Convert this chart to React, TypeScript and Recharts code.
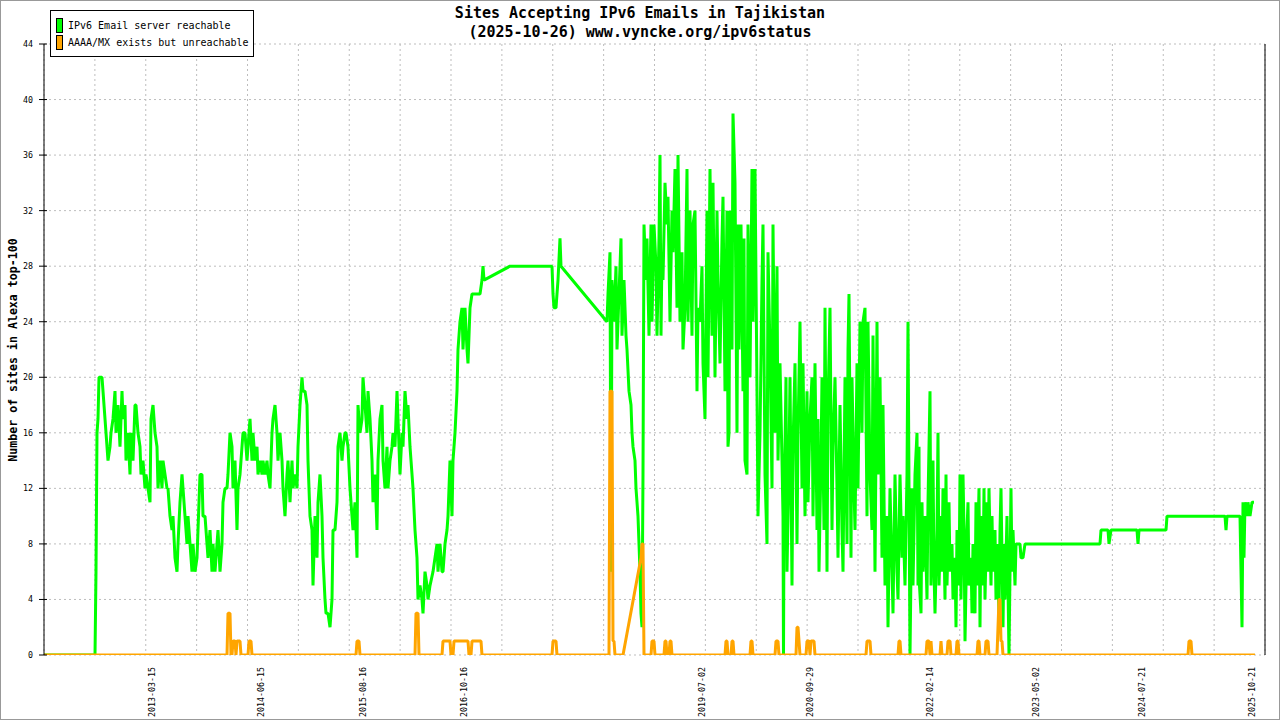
import { LineChart, Line, XAxis, YAxis, CartesianGrid } from "recharts";

// sample index -> sites reachable over IPv6 (green)
const reachable: [number, number][] = [
  [0, 0], [51, 0], [52, 6], [53, 16], [54, 17], [55, 20], [58, 20], [59, 19], [61, 17], [63, 15], [64, 14], [66, 15],
  [67, 16], [69, 17], [71, 19], [72, 16], [74, 18], [76, 15], [78, 19], [79, 17], [81, 18], [82, 14], [84, 16], [86, 13],
  [87, 16], [89, 14], [91, 18], [92, 18], [94, 16], [96, 15], [97, 13], [99, 14], [101, 12], [102, 13], [104, 12], [106, 11],
  [107, 17], [109, 18], [111, 16], [113, 15], [114, 12], [116, 14], [118, 12], [119, 14], [121, 13], [123, 12], [124, 12],
  [126, 10], [128, 9], [129, 10], [131, 7], [133, 6], [134, 8], [136, 11], [138, 13], [139, 12], [141, 10], [143, 8],
  [144, 10], [146, 8], [148, 6], [149, 8], [151, 6], [153, 7], [154, 9], [156, 13], [158, 13], [159, 10], [161, 10],
  [163, 8], [164, 7], [166, 9], [168, 6], [169, 8], [171, 6], [173, 8], [174, 9], [176, 6], [178, 8], [179, 11], [181, 12],
  [183, 12], [184, 13], [186, 16], [188, 15], [189, 12], [191, 14], [193, 9], [194, 12], [196, 13], [198, 15], [199, 16],
  [201, 16], [203, 14], [204, 15], [206, 17], [208, 14], [209, 16], [211, 14], [213, 15], [214, 13], [216, 14], [218, 13],
  [219, 14], [221, 13], [223, 14], [224, 13], [226, 12], [228, 16], [229, 17], [231, 18], [233, 16], [234, 14], [236, 16],
  [238, 14], [239, 12], [241, 10], [243, 13], [244, 14], [246, 11], [248, 14], [249, 12], [251, 13], [253, 12], [254, 15],
  [256, 18], [258, 20], [259, 19], [261, 19], [263, 18], [264, 14], [266, 10], [268, 9], [269, 5], [271, 10], [273, 7],
  [274, 11], [276, 13], [278, 10], [279, 7], [281, 4], [282, 3], [284, 3], [286, 2], [288, 4], [289, 9], [291, 9], [293, 11],
  [294, 15], [296, 16], [298, 14], [299, 15], [301, 16], [302, 16], [304, 15], [306, 12], [308, 10], [309, 9], [311, 11],
  [313, 7], [314, 18], [316, 16], [318, 17], [319, 20], [321, 18], [323, 16], [324, 19], [326, 17], [328, 14], [329, 11],
  [331, 13], [333, 9], [334, 14],
  [336, 17], [338, 18], [339, 14], [341, 12], [343, 15], [344, 12], [346, 14], [348, 15], [349, 16], [351, 15], [353, 19],
  [354, 17], [356, 13], [358, 16], [359, 15], [361, 19], [363, 17], [364, 18], [366, 15], [368, 13], [369, 12], [371, 9],
  [373, 7], [374, 4], [376, 5], [378, 4], [379, 3], [381, 6], [383, 5], [384, 4], [386, 5], [389, 6], [391, 7], [393, 8],
  [394, 6], [396, 8], [398, 6], [399, 6], [401, 8], [403, 9], [404, 10], [406, 14], [408, 10], [409, 14], [411, 16],
  [413, 19], [414, 22], [416, 24], [418, 25], [419, 22], [421, 25], [423, 22], [424, 21], [426, 25], [428, 26], [436, 26],
  [438, 27], [439, 28], [440, 27], [466, 28], [508, 28], [509, 26], [510, 25], [512, 25], [513, 26], [514, 27], [516, 30],
  [517, 28], [563, 24], [564, 26], [566, 29], [567, 6], [568, 27], [570, 24], [572, 28], [573, 22], [575, 26], [577, 30],
  [578, 23], [580, 27], [582, 23], [583, 22], [585, 19], [587, 18], [588, 16], [589, 15], [591, 14], [592, 12], [593, 11],
  [594, 10], [595, 8], [596, 6], [597, 3], [598, 2], [599, 13], [600, 31], [602, 27], [603, 30], [605, 23], [607, 31],
  [608, 24], [610, 31], [612, 28], [613, 23], [615, 30],
  [616, 36], [617, 23], [618, 29], [619, 27], [621, 34], [623, 31], [624, 33], [626, 24], [628, 32], [629, 29], [631, 35],
  [633, 25], [634, 36], [636, 24], [638, 29], [639, 22], [641, 25], [643, 35], [644, 24], [646, 32], [648, 23], [649, 31],
  [651, 32], [653, 19], [654, 25], [656, 24], [658, 28], [659, 21], [661, 17], [663, 32], [664, 20], [666, 35], [668, 23],
  [669, 34], [671, 20], [673, 32], [674, 27], [676, 21], [678, 30], [679, 33], [681, 19], [683, 32], [684, 15], [685, 16],
  [686, 32], [688, 22], [689, 39], [691, 34], [693, 16], [694, 31], [695, 22], [697, 31], [699, 19], [700, 30], [701, 14],
  [703, 13], [704, 31], [706, 20], [708, 35], [709, 24], [711, 35], [713, 19], [714, 10], [716, 16], [718, 27], [719, 31],
  [721, 13], [723, 8], [724, 29], [726, 22], [728, 12], [729, 31], [731, 16], [733, 28], [734, 14], [736, 21], [738, 14],
  [739, 10], [739.5, 0], [740, 10], [742, 20], [743, 6], [745, 14], [746, 20], [748, 5], [749, 15], [751, 21], [753, 8],
  [754, 16], [756, 24], [758, 12], [759, 21], [761, 10], [763, 19], [764, 11], [766, 17], [768, 20], [769, 10], [771, 21],
  [773, 9], [774, 17], [775, 6], [777, 14], [778, 20], [780, 9], [781, 25], [783, 6], [784, 18], [786, 25], [788, 9],
  [789, 15], [791, 20], [793, 12], [794, 7], [796, 18], [798, 9], [799, 6], [801, 20], [803, 8], [804, 22], [805, 26],
  [807, 7], [808, 20], [810, 12], [811, 9], [813, 21], [814, 12], [816, 24], [818, 16], [819, 24], [821, 25], [823, 10],
  [824, 24], [826, 13], [828, 9], [829, 23], [831, 6], [833, 24], [834, 13], [836, 20], [838, 7], [839, 18], [841, 5],
  [843, 10], [844, 2], [846, 12], [848, 6], [849, 3], [851, 13], [853, 6], [854, 4], [856, 13], [858, 7], [859, 10],
  [861, 5], [863, 13], [864, 24], [866, 0], [868, 12], [869, 5], [871, 13], [873, 16], [874, 5],
  [875, 15], [875.5, 5], [877, 3], [878, 11], [879, 6], [881, 10], [883, 4], [884, 11], [886, 19], [887, 5], [889, 14],
  [890, 6], [891, 3], [893, 9], [894, 16], [895, 5], [897, 10], [898, 6], [899, 12], [901, 4], [902, 13], [903, 5],
  [905, 11], [906, 6], [908, 8], [909, 4], [911, 7], [912, 2], [913, 9], [915, 5], [916, 13], [917, 4], [919, 13],
  [920, 9], [921, 1], [923, 9], [924, 11], [925, 5], [927, 7], [928, 3], [929, 8], [931, 3], [932, 11], [933, 5],
  [935, 12], [936, 2], [937, 10], [939, 5], [940, 12], [941, 4], [943, 11], [944, 6], [945, 12], [947, 5], [948, 10],
  [949, 6], [951, 9], [952, 4], [953, 8], [955, 3], [956, 9], [957, 12], [959, 2], [960, 8], [961, 4], [963, 10],
  [964, 5], [965, 0], [967, 12], [968, 6], [969, 9], [971, 5], [972, 8], [976, 8], [977, 7], [979, 7], [981, 8],
  [1056, 8], [1057, 9], [1064, 9], [1065, 8], [1067, 9], [1093, 9], [1094, 8], [1095, 9], [1122, 9], [1123, 10],
  [1181, 10], [1182, 9], [1183, 10], [1196, 10], [1197, 6], [1198, 2], [1199, 11], [1200, 7], [1201, 11], [1203, 10],
  [1204, 11], [1206, 10], [1208, 11], [1210, 11],
];

// sample index -> AAAA/MX present but server unreachable (orange)
const unreachable: [number, number][] = [
  [0, 0], [183, 0], [184, 3], [186, 3], [187, 0], [188, 0], [189, 1], [191, 1], [192, 0], [193, 1], [196, 1], [197, 0],
  [204, 0], [205, 1], [207, 1], [208, 0], [312, 0], [313, 1], [315, 1], [316, 0], [371, 0], [372, 3], [374, 3], [375, 0],
  [398, 0], [399, 1], [406, 1], [407, 0], [409, 0], [410, 1], [424, 1], [425, 0], [427, 0], [428, 1], [437, 1], [438, 0],
  [508, 0], [509, 1], [512, 1], [513, 0], [565, 0], [566, 19], [568, 19], [569, 1], [570, 1], [571, 0], [579, 0],
  [597, 7], [598, 8], [599, 8], [600, 0], [607, 0], [608, 1], [610, 1], [611, 0], [620, 0], [621, 1], [622, 1], [623, 0],
  [625, 0], [626, 1], [627, 1], [628, 0], [681, 0], [682, 1], [683, 1], [684, 0], [687, 0], [688, 1], [689, 1], [690, 0],
  [706, 0], [707, 1], [708, 1], [709, 0], [731, 0], [732, 1], [734, 1], [735, 0], [752, 0], [753, 2], [754, 2], [755, 1],
  [756, 0], [762, 0], [763, 1], [765, 1], [766, 0], [767, 1], [770, 1], [771, 0], [822, 0], [823, 1], [826, 1], [827, 0],
  [854, 0], [855, 1], [856, 1], [857, 0], [882, 0], [883, 1], [885, 1], [886, 0], [887, 1], [888, 0], [896, 0], [897, 1],
  [898, 0], [903, 0], [904, 1], [906, 1], [907, 0], [912, 0], [913, 1], [914, 1], [915, 0], [933, 0], [934, 1], [935, 1],
  [936, 0], [941, 0], [942, 1], [944, 1], [945, 0], [953, 0], [954, 2], [955, 4], [956, 4], [957, 1], [958, 1], [959, 0],
  [1144, 0], [1145, 1], [1147, 1], [1148, 0], [1211, 0],
];

const dateLabels = [
  "2013-03-15", "2014-06-15", "2015-08-16", "2016-10-16", "2019-07-02",
  "2020-09-29", "2022-02-14", "2023-05-02", "2024-07-21", "2025-10-21",
];
const dateIdx = [108, 217, 319, 420, 658, 766, 886, 992, 1098, 1208];

const yTicks = [0, 4, 8, 12, 16, 20, 24, 28, 32, 36, 40, 44];

const X_MAX = 1221;
const xTicks = Array.from({ length: 25 }, (_, i) => (i * X_MAX) / 24);

const MONO = "'DejaVu Sans Mono', monospace";
const GREEN = "#00ff00";
const ORANGE = "#ffa500";

const toPoints = (pairs: [number, number][]) => pairs.map(([x, y]) => ({ x, y }));

function XTickMark(props: any) {
  const { x, y } = props;
  return <line x1={x} x2={x} y1={y - 3} y2={y + 5} stroke="#000" />;
}

function DateTick(props: any) {
  const { x, y, payload } = props;
  const i = dateIdx.indexOf(payload.value);
  if (i < 0) return null;
  return (
    <text
      transform={`translate(${x},${y + 12}) rotate(-90)`}
      textAnchor="end"
      dominantBaseline="central"
      fontFamily={MONO}
      fontSize={8.3}
      fill="#000"
    >
      {dateLabels[i]}
    </text>
  );
}

function YTick(props: any) {
  const { x, y, payload } = props;
  return (
    <g>
      <line x1={x - 5} x2={x + 3} y1={y} y2={y} stroke="#000" />
      <text x={x - 11} y={y} textAnchor="end" dominantBaseline="central" fontFamily={MONO} fontSize={8.3} fill="#000">
        {payload.value}
      </text>
    </g>
  );
}

function YTitle() {
  return (
    <text
      transform="translate(13,350) rotate(-90)"
      textAnchor="middle"
      dominantBaseline="central"
      fontFamily={MONO}
      fontWeight="bold"
      fontSize={11.6}
      fill="#000"
    >
      Number of sites in Alexa top-100
    </text>
  );
}

const legendItems = [
  { label: "IPv6 Email server reachable", color: GREEN },
  { label: "AAAA/MX exists but unreachable", color: ORANGE },
];

export default function App() {
  return (
    <div style={{ position: "relative", width: 1280, height: 720, background: "#fff", overflow: "hidden" }}>
      <style>{"body{margin:0}"}</style>
      <LineChart width={1280} height={720} margin={{ top: 44, right: 0, bottom: 0, left: 0 }}>
        <CartesianGrid xAxisId="g" yAxisId="l" stroke="#bdbdbd" strokeDasharray="2 3" verticalPoints={undefined} />
        <XAxis
          xAxisId="g"
          type="number"
          dataKey="x"
          domain={[0, X_MAX]}
          allowDataOverflow
          ticks={xTicks}
          interval={0}
          height={0}
          tickSize={0}
          tickMargin={0}
          tickLine={false}
          tick={<XTickMark />}
          axisLine={{ stroke: "#000" }}
        />
        <XAxis
          xAxisId="d"
          type="number"
          dataKey="x"
          domain={[0, X_MAX]}
          allowDataOverflow
          ticks={dateIdx}
          interval={0}
          height={65}
          tickSize={0}
          tickMargin={0}
          tickLine={false}
          axisLine={false}
          tick={<DateTick />}
        />
        <YAxis
          yAxisId="l"
          type="number"
          domain={[0, 44]}
          allowDataOverflow
          ticks={yTicks}
          interval={0}
          width={44}
          tickSize={0}
          tickMargin={0}
          tickLine={false}
          tick={<YTick />}
          axisLine={{ stroke: "#000" }}
          label={{ content: () => <YTitle /> }}
        />
        <YAxis
          yAxisId="r"
          orientation="right"
          type="number"
          domain={[0, 44]}
          allowDataOverflow
          ticks={yTicks}
          width={15}
          tick={false}
          tickLine={false}
          axisLine={{ stroke: "#000" }}
        />
        <Line
          xAxisId="g"
          yAxisId="l"
          data={toPoints(reachable)}
          dataKey="y"
          name="IPv6 Email server reachable"
          stroke={GREEN}
          strokeWidth={3}
          strokeLinejoin="bevel"
          dot={false}
          activeDot={false}
          isAnimationActive={false}
        />
        <Line
          xAxisId="g"
          yAxisId="l"
          data={toPoints(unreachable)}
          dataKey="y"
          name="AAAA/MX exists but unreachable"
          stroke={ORANGE}
          strokeWidth={3}
          strokeLinejoin="bevel"
          dot={false}
          activeDot={false}
          isAnimationActive={false}
        />
      </LineChart>

      <div
        style={{
          position: "absolute",
          top: 4,
          left: 0,
          width: 1280,
          textAlign: "center",
          fontFamily: MONO,
          fontWeight: "bold",
          fontSize: 15,
          lineHeight: "19px",
          color: "#000",
        }}
      >
        <div>Sites Accepting IPv6 Emails in Tajikistan</div>
        <div>(2025-10-26) www.vyncke.org/ipv6status</div>
      </div>

      <div
        style={{
          position: "absolute",
          left: 50,
          top: 10,
          width: 202,
          height: 45,
          border: "1px solid #000",
          background: "#fff",
          fontFamily: MONO,
          fontSize: 10,
          color: "#000",
        }}
      >
        {legendItems.map((item, i) => (
          <div key={item.label} style={{ position: "absolute", left: 5, top: 6 + i * 17, height: 16, display: "flex", alignItems: "center" }}>
            <span
              style={{
                display: "inline-block",
                width: 5,
                height: 13,
                background: item.color,
                border: "1px solid #000",
                marginRight: 5,
              }}
            />
            <span style={{ whiteSpace: "nowrap" }}>{item.label}</span>
          </div>
        ))}
      </div>

      <div
        style={{
          position: "absolute",
          inset: 0,
          border: "1px solid #999",
          pointerEvents: "none",
        }}
      />
    </div>
  );
}
